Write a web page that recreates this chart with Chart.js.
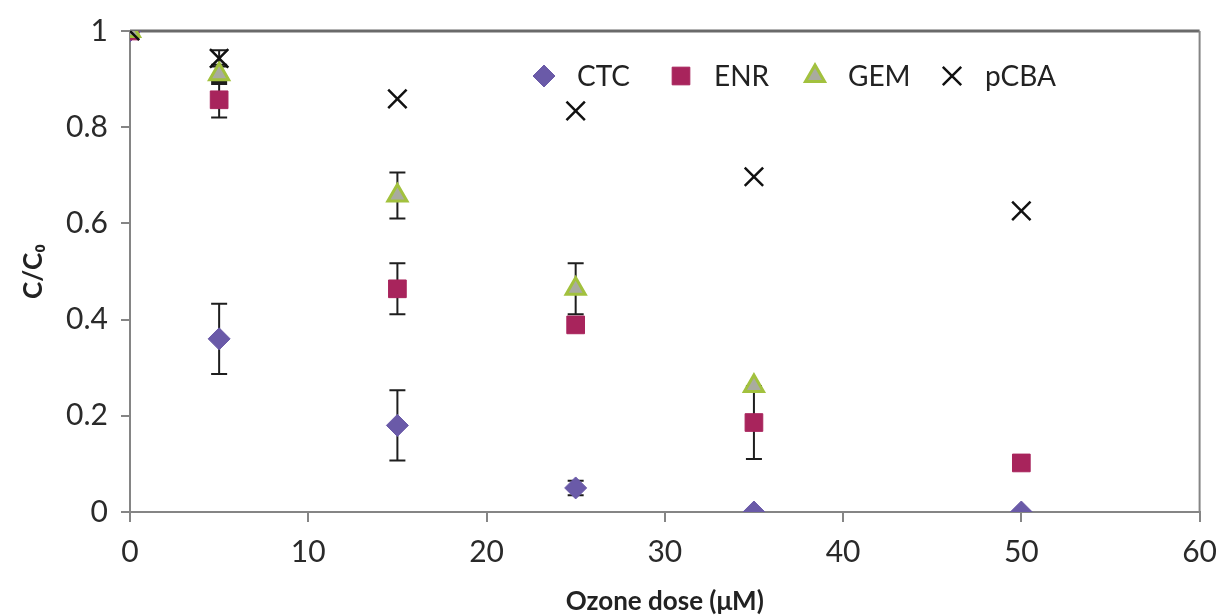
<!DOCTYPE html>
<html>
<head>
<meta charset="utf-8">
<script src="https://cdn.jsdelivr.net/npm/chart.js@4.4.1/dist/chart.umd.min.js"></script>
<style>
  html, body { margin: 0; padding: 0; background: #fff; }
  #wrap { width: 1229px; height: 615px; }
</style>
</head>
<body>
<div id="wrap"><canvas id="ozoneChart"></canvas></div>
<script>
// Ozone dose (uM) on the x axis
const doses = [0, 5, 15, 25, 35, 50];

// C/C0 for each compound
const ctcValues = [1, 0.36, 0.18, 0.05, 0, 0];
const enrValues = [1, 0.857, 0.464, 0.389, 0.186, 0.102];
const gemValues = [1, 0.91, 0.658, 0.464, 0.262, null];
const pcbaValues = [1, 0.943, 0.859, 0.834, 0.697, 0.626];

// +/- error for each point (0 = no bar)
const ctcErrors = [0, 0.073, 0.073, 0.015, 0, 0];
const enrErrors = [0, 0.037, 0.053, 0, 0.076, 0];
const gemErrors = [0, 0.02, 0.048, 0.053, 0, 0];
const pcbaErrors = [0, 0.017, 0, 0, 0, 0];

const xTicks = [0, 10, 20, 30, 40, 50, 60];
const yTicks = [0, 0.2, 0.4, 0.6, 0.8, 1];

const FONT = "Lato, 'Open Sans', sans-serif";

function toPoints(values) {
  return doses.map((d, i) => ({ x: d, y: values[i] })).filter((p) => p.y !== null);
}

const errorLists = [ctcErrors, enrErrors, gemErrors, pcbaErrors];

// error bars, drawn under the markers
const errorBars = {
  id: "errorBars",
  beforeDatasetsDraw(chart) {
    const { ctx, scales } = chart;
    ctx.save();
    ctx.strokeStyle = "#1e1e1e";
    ctx.lineWidth = 2;
    chart.data.datasets.forEach((ds, i) => {
      const errs = errorLists[i];
      ds.data.forEach((p) => {
        const e = errs[doses.indexOf(p.x)];
        if (!e) return;
        const px = scales.x.getPixelForValue(p.x);
        const top = scales.y.getPixelForValue(p.y + e);
        const bot = scales.y.getPixelForValue(p.y - e);
        ctx.beginPath();
        ctx.moveTo(px, top);
        ctx.lineTo(px, bot);
        ctx.moveTo(px - 8, top);
        ctx.lineTo(px + 8, top);
        ctx.moveTo(px - 8, bot);
        ctx.lineTo(px + 8, bot);
        ctx.stroke();
      });
    });
    ctx.restore();
  },
};

// top and right edges of the plot box
const plotBox = {
  id: "plotBox",
  beforeDatasetsDraw(chart) {
    const { ctx, chartArea: a } = chart;
    ctx.save();
    ctx.strokeStyle = "#6a6a6a";
    ctx.lineWidth = 3;
    ctx.beginPath();
    ctx.moveTo(a.left, a.top);
    ctx.lineTo(a.right, a.top);
    ctx.stroke();
    ctx.strokeStyle = "#858585";
    ctx.lineWidth = 2;
    ctx.beginPath();
    ctx.moveTo(a.right, a.top);
    ctx.lineTo(a.right, a.bottom);
    ctx.stroke();
    ctx.restore();
  },
};

// legend in one row inside the plot, markers same size as the points
const legendSlots = [544, 681, 815, 952];
const insideLegend = {
  id: "insideLegend",
  afterDatasetsDraw(chart) {
    const { ctx } = chart;
    const y = 76;
    ctx.save();
    ctx.font = "28px " + FONT;
    ctx.textBaseline = "middle";
    ctx.fillStyle = "#222";
    chart.data.datasets.forEach((ds, i) => {
      const x = legendSlots[i];
      ctx.save();
      ctx.fillStyle = ds.backgroundColor;
      ctx.strokeStyle = ds.borderColor;
      ctx.lineWidth = ds.borderWidth;
      Chart.helpers.drawPoint(ctx, { pointStyle: ds.pointStyle, radius: ds.pointRadius, rotation: 0, borderWidth: ds.borderWidth }, x, y);
      ctx.restore();
      ctx.fillText(ds.label, x + 33, y + 1);
    });
    ctx.restore();
  },
};

const ctx = document.getElementById("ozoneChart").getContext("2d");
new Chart(ctx, {
  type: "scatter",
  data: {
    datasets: [
      {
        label: "CTC",
        data: toPoints(ctcValues),
        pointStyle: "rectRot",
        pointRadius: 11,
        backgroundColor: "#6a5aa8",
        borderColor: "#6a5aa8",
        borderWidth: 1,
        order: 4,
      },
      {
        label: "ENR",
        data: toPoints(enrValues),
        pointStyle: "rect",
        pointRadius: 12.5,
        backgroundColor: "#a8245c",
        borderColor: "#a8245c",
        borderWidth: 1,
        order: 3,
      },
      {
        label: "GEM",
        data: toPoints(gemValues),
        pointStyle: "triangle",
        pointRadius: 11,
        backgroundColor: "#a9ab9f",
        borderColor: "#a2c13e",
        borderWidth: 3,
        order: 2,
      },
      {
        label: "pCBA",
        data: toPoints(pcbaValues),
        pointStyle: "crossRot",
        pointRadius: 13,
        backgroundColor: "#111",
        borderColor: "#111",
        borderWidth: 2.5,
        order: 1,
      },
    ],
  },
  options: {
    responsive: true,
    maintainAspectRatio: false,
    animation: false,
    layout: { padding: { top: 25, right: 18, left: 0, bottom: 0 } },
    plugins: {
      tooltip: { enabled: false },
      legend: { display: false },
    },
    scales: {
      x: {
        type: "linear",
        min: 0,
        max: 60,
        afterBuildTicks: (s) => { s.ticks = xTicks.map((v) => ({ value: v })); },
        afterFit: (s) => { s.height = 103; },
        ticks: {
          padding: 12,
          color: "#2a2a2a",
          font: { family: FONT, size: 30 },
        },
        grid: { drawOnChartArea: false, tickLength: 10, color: "#858585", lineWidth: 2 },
        border: { color: "#858585", width: 2 },
        title: {
          display: true,
          text: "Ozone dose (μM)",
          color: "#222",
          padding: { top: 0, bottom: 0 },
          font: { family: FONT, size: 26, weight: "bold", lineHeight: 1 },
        },
      },
      y: {
        type: "linear",
        min: 0,
        max: 1,
        afterBuildTicks: (s) => { s.ticks = yTicks.map((v) => ({ value: v })); },
        afterFit: (s) => { s.width = 130; },
        ticks: {
          padding: 13,
          color: "#2a2a2a",
          font: { family: FONT, size: 30 },
          callback: (v) => String(v),
        },
        grid: { drawOnChartArea: false, tickLength: 9, color: "#858585", lineWidth: 2 },
        border: { color: "#858585", width: 2 },
        title: {
          display: true,
          text: "C/C₀",
          color: "#222",
          padding: { top: 21, bottom: 0 },
          font: { family: FONT, size: 26, weight: "bold", lineHeight: 1 },
        },
      },
    },
  },
  plugins: [errorBars, plotBox, insideLegend],
});
</script>
</body>
</html>
